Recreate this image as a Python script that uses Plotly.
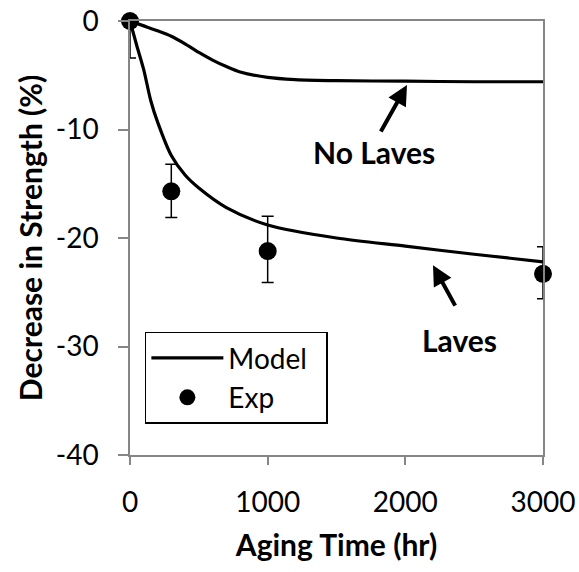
import plotly.graph_objects as go

# Model curves
laves_x = [0, 50, 100, 150, 200, 300, 400, 500, 700, 1000, 1500, 2000, 2500, 3000]
laves_y = [0, -2.3, -4.5, -7.3, -9.3, -12.4, -14.2, -15.4, -17.2, -18.8, -20.0, -20.75, -21.5, -22.2]

nolaves_x = [0, 100, 200, 300, 400, 500, 600, 700, 800, 1000, 1200, 1500, 2000, 2500, 3000]
nolaves_y = [0, -0.45, -0.9, -1.4, -2.1, -2.9, -3.6, -4.2, -4.7, -5.2, -5.4, -5.5, -5.55, -5.6, -5.6]

# Experimental points
exp_x = [0, 300, 1000, 3000]
exp_y = [0, -15.7, -21.2, -23.3]
exp_err_plus = [0, 2.5, 3.2, 2.5]
exp_err_minus = [3.4, 2.4, 2.9, 2.3]

x_ticks = [0, 1000, 2000, 3000]
x_ticktext = ["0", "1000", "2000", "3000"]
y_ticks = [0, -10, -20, -30, -40]
y_ticktext = ["0", "-10", "-20", "-30", "-40"]

FONT = "Lato"
FS = 28
TFS = 30
AXC = "#868686"
PAD = "\u00a0\u00a0"

fig = go.Figure()
fig.add_trace(go.Scatter(x=laves_x, y=laves_y, mode="lines", name="Model" + PAD,
                         line=dict(color="black", width=3.2, shape="spline", smoothing=0.8),
                         showlegend=True))
fig.add_trace(go.Scatter(x=nolaves_x, y=nolaves_y, mode="lines", name="Model",
                         line=dict(color="black", width=3.2, shape="spline", smoothing=0.8),
                         showlegend=False))
fig.add_trace(go.Scatter(x=exp_x, y=exp_y, mode="markers", name="Exp",
                         marker=dict(color="black", size=18, symbol="circle"),
                         error_y=dict(type="data", symmetric=False, array=exp_err_plus,
                                      arrayminus=exp_err_minus, color="black",
                                      thickness=1.5, width=6),
                         cliponaxis=False))

fig.update_layout(
    width=579, height=572,
    margin=dict(l=130, r=36, t=21, b=117, autoexpand=False),
    paper_bgcolor="white", plot_bgcolor="white",
    font=dict(family=FONT, size=FS, color="black"),
    showlegend=True,
    legend=dict(x=0.036, y=0.284, xanchor="left", yanchor="top",
                bgcolor="white", bordercolor="black", borderwidth=1.5,
                font=dict(family=FONT, size=FS), itemwidth=72,
                tracegroupgap=0),
    xaxis=dict(range=[0, 3000], tickvals=x_ticks, ticktext=x_ticktext,
               showgrid=False, zeroline=False, showline=True, linecolor=AXC,
               linewidth=1.5, mirror=True, ticks="outside", ticklen=8,
               tickcolor=AXC, tickwidth=1.5, ticklabelstandoff=14,
               title=dict(text="Aging Time (hr)", standoff=18,
                          font=dict(family=FONT, size=TFS, weight="bold"))),
    yaxis=dict(range=[-40, 0], tickvals=y_ticks, ticktext=y_ticktext,
               showgrid=False, zeroline=False, showline=True, linecolor=AXC,
               linewidth=1.5, mirror=True, ticks="outside", ticklen=10,
               tickcolor=AXC, tickwidth=1.5, ticklabelstandoff=14,
               title=dict(text="Decrease in Strength (%)", standoff=4,
                          font=dict(family=FONT, size=TFS, weight="bold"))),
)

# Labels
fig.add_annotation(x=1772, y=-12.1, text="No Laves", showarrow=False,
                   font=dict(family=FONT, size=TFS, weight="bold"))
fig.add_annotation(x=2397, y=-29.4, text="Laves", showarrow=False,
                   font=dict(family=FONT, size=TFS, weight="bold"))
# Arrows
fig.add_annotation(x=2012, y=-5.9, ax=-27, ay=48, text="", showarrow=True,
                   arrowhead=2, arrowsize=1, arrowwidth=4, arrowcolor="black")
fig.add_annotation(x=2201, y=-22.5, ax=23, ay=42, text="", showarrow=True,
                   arrowhead=2, arrowsize=1, arrowwidth=4, arrowcolor="black")

fig.write_html("out.html")
